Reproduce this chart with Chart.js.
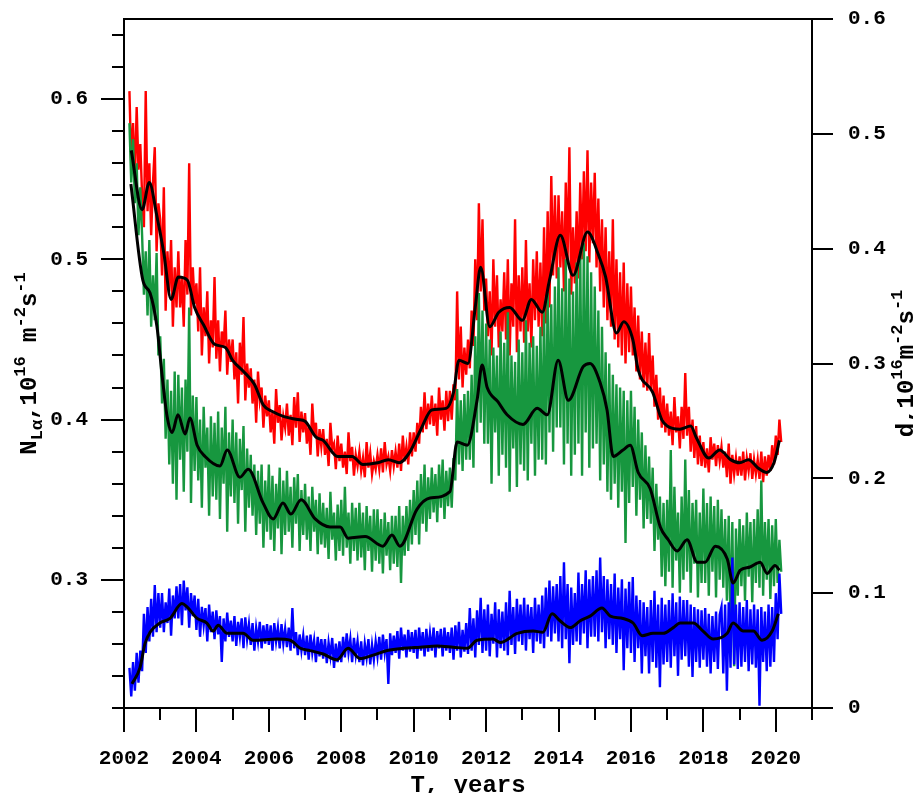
<!DOCTYPE html>
<html><head><meta charset="utf-8">
<script src="https://cdn.jsdelivr.net/npm/chart.js@4.4.1/dist/chart.umd.min.js"></script>
<style>html,body{margin:0;padding:0;background:#fff;overflow:hidden}#wrap{position:relative;width:913px;height:793px}</style>
</head><body><div id="wrap"><canvas id="c" width="913" height="793"></canvas></div>
<script>
// ---- tick labels / axis marks ----
const xTickYears = [2002,2004,2006,2008,2010,2012,2014,2016,2018,2020];
const xMinorYears = [2003,2005,2007,2009,2011,2013,2015,2017,2019,2021];
const leftTicks = [0.3,0.4,0.5,0.6];
const leftMinor = [0.22,0.24,0.26,0.28,0.32,0.34,0.36,0.38,0.42,0.44,0.46,0.48,0.52,0.54,0.56,0.58,0.62,0.64];
const rightTicks = [0,0.1,0.2,0.3,0.4,0.5,0.6];

// ---- raw series, sampled every 0.05 yr from 2002.15 ----
const noisyStart = 2002.15;
const noisyStep = 0.05;
const redNoisy = [
.605,.560,.585,.548,.595,.556,.572,.540,.520,.605,.530,.560,.515,.548,.570,.505,.535,
.525,.490,.545,.468,.505,.480,.512,.458,.495,.470,.505,.470,.488,.458,.512,.478,.560,.465,.495,.472,
.485,.455,.495,.440,.470,.452,.480,.435,.462,.445,.489,.438,.462,.430,.455,.445,.468,.428,.450,.436,
.450,.425,.442,.410,.448,.428,.464,.412,.435,.420,.432,.410,.425,.398,.430,.412,.420,.395,.415,.402,
.412,.392,.405,.385,.419,.398,.409,.387,.402,.395,.410,.390,.403,.384,.414,.395,.417,.386,.405,.392,
.404,.385,.396,.378,.410,.390,.398,.377,.394,.383,.394,.378,.388,.371,.398,.382,.385,.369,.390,.374,
.385,.370,.380,.366,.392,.374,.383,.365,.378,.371,.380,.368,.376,.364,.386,.370,.379,.366,.374,.369,
.378,.369,.382,.367,.386,.372,.377,.368,.381,.371,.380,.370,.385,.368,.390,.374,.383,.372,.392,.377,
.392,.380,.398,.385,.408,.392,.417,.394,.410,.397,.415,.396,.410,.390,.420,.400,.412,.393,.418,.399,
.418,.400,.422,.412,.480,.425,.458,.420,.445,.428,.450,.432,.468,.446,.500,.462,.535,.480,.525,.468,
.488,.452,.480,.440,.500,.458,.490,.445,.475,.455,.492,.450,.500,.440,.485,.458,.525,.442,.490,.455,
.495,.448,.512,.455,.485,.445,.500,.462,.505,.458,.498,.452,.520,.460,.530,.470,.552,.490,.540,.488,
.540,.495,.530,.480,.548,.500,.570,.478,.520,.485,.530,.488,.548,.500,.555,.505,.568,.498,.548,.510,
.554,.495,.538,.480,.525,.470,.520,.462,.505,.458,.525,.450,.500,.445,.492,.440,.498,.435,.485,.442,
.483,.440,.470,.430,.465,.425,.455,.420,.448,.418,.454,.418,.440,.408,.428,.400,.420,.395,.415,.392,
.410,.390,.405,.384,.414,.392,.402,.382,.408,.388,.429,.390,.408,.380,.400,.376,.396,.372,.390,.371,
.386,.370,.382,.367,.389,.375,.385,.371,.384,.374,.383,.370,.380,.364,.385,.360,.378,.366,.376,.365,
.377,.365,.380,.362,.376,.368,.379,.363,.375,.366,.375,.363,.380,.361,.377,.365,.378,.368,.384,.372,
.390,.378,.400,.386];
const greenNoisy = [
.585,.548,.575,.535,.560,.515,.545,.515,.478,.505,.465,.512,.458,.490,.462,.504,.440,
.452,.410,.438,.388,.425,.372,.418,.360,.430,.350,.428,.375,.420,.355,.425,.380,.470,.348,.415,.368,
.414,.362,.400,.345,.408,.370,.395,.340,.402,.352,.398,.350,.405,.338,.395,.360,.408,.330,.392,.352,
.400,.348,.392,.335,.388,.356,.396,.330,.382,.345,.378,.340,.372,.328,.368,.335,.372,.320,.362,.330,
.372,.325,.365,.318,.360,.332,.370,.316,.362,.328,.368,.330,.358,.320,.364,.335,.366,.318,.356,.328,
.360,.325,.352,.318,.358,.330,.350,.316,.354,.322,.348,.320,.345,.313,.355,.325,.342,.312,.347,.318,
.350,.315,.358,.320,.342,.310,.348,.318,.345,.312,.348,.314,.342,.306,.346,.318,.340,.305,.344,.312,
.344,.310,.338,.304,.342,.315,.336,.306,.340,.310,.340,.308,.346,.298,.340,.315,.346,.318,.350,.322,
.356,.328,.362,.322,.366,.335,.372,.330,.364,.338,.370,.342,.366,.336,.372,.345,.375,.338,.368,.346,
.370,.345,.376,.362,.419,.372,.412,.368,.416,.375,.418,.375,.428,.370,.452,.392,.479,.398,.468,.385,
.460,.385,.450,.360,.445,.392,.440,.365,.455,.378,.448,.370,.467,.355,.440,.382,.436,.358,.450,.372,
.442,.368,.462,.362,.448,.385,.452,.365,.446,.375,.458,.375,.468,.372,.479,.392,.472,.380,.483,.395,
.495,.395,.482,.372,.500,.385,.488,.365,.480,.378,.498,.385,.505,.365,.510,.392,.502,.370,.492,.382,
.483,.385,.468,.362,.458,.372,.442,.355,.435,.350,.428,.360,.422,.345,.420,.355,.418,.323,.412,.348,
.418,.358,.408,.340,.400,.350,.392,.332,.384,.338,.377,.335,.370,.318,.360,.325,.352,.302,.348,.296,
.350,.305,.381,.295,.358,.312,.342,.292,.352,.300,.375,.305,.356,.292,.348,.310,.350,.289,.342,.298,
.357,.298,.348,.290,.352,.305,.346,.289,.350,.300,.344,.295,.338,.287,.340,.270,.336,.246,.332,.290,
.338,.296,.334,.287,.342,.302,.336,.286,.338,.298,.344,.295,.362,.290,.336,.300,.338,.288,.334,.296,
.338,.298,.325,.305];
const blueNoisy = [
.035,.010,.040,.015,.048,.022,.050,.032,.082,.048,.088,.058,.095,.062,.107,.066,.100,
.070,.100,.066,.092,.074,.104,.063,.098,.078,.106,.078,.108,.072,.111,.085,.105,.070,.100,.080,.098,
.068,.095,.062,.088,.072,.087,.058,.090,.066,.084,.060,.085,.064,.080,.040,.078,.058,.083,.062,.076,
.058,.080,.054,.075,.062,.078,.052,.079,.060,.073,.055,.074,.050,.070,.058,.075,.052,.072,.056,.073,
.055,.072,.050,.074,.058,.070,.052,.073,.056,.069,.053,.070,.050,.087,.052,.066,.046,.064,.050,.063,
.046,.063,.042,.064,.048,.059,.040,.062,.045,.060,.043,.060,.039,.057,.045,.061,.035,.056,.040,.058,
.040,.062,.044,.065,.048,.060,.040,.061,.046,.058,.040,.058,.037,.056,.044,.060,.038,.055,.042,.058,
.045,.062,.042,.064,.048,.060,.021,.065,.046,.063,.048,.067,.043,.070,.050,.064,.044,.068,.049,.066,
.048,.068,.043,.070,.050,.066,.045,.069,.049,.065,.050,.070,.044,.067,.052,.069,.045,.070,.050,.066,
.048,.070,.042,.072,.050,.075,.044,.068,.049,.074,.047,.087,.050,.078,.044,.085,.055,.096,.048,.086,
.050,.090,.045,.082,.056,.092,.044,.086,.052,.084,.050,.092,.046,.102,.055,.088,.047,.095,.058,.090,
.055,.096,.050,.090,.060,.088,.048,.096,.058,.090,.056,.098,.052,.105,.062,.111,.058,.106,.065,.108,
.058,.115,.052,.127,.060,.108,.039,.105,.055,.100,.058,.118,.055,.108,.065,.120,.052,.112,.062,.115,
.062,.120,.058,.131,.066,.115,.052,.112,.060,.108,.055,.117,.048,.105,.060,.112,.033,.104,.052,.110,
.048,.114,.040,.098,.052,.094,.030,.092,.045,.088,.030,.094,.040,.102,.035,.090,.018,.096,.038,.090,
.040,.094,.035,.100,.045,.092,.028,.097,.042,.094,.045,.094,.036,.090,.027,.088,.040,.086,.035,.085,
.042,.087,.036,.082,.030,.080,.040,.084,.034,.081,.088,.030,.090,.015,.092,.035,.131,.038,.090,.034,
.092,.036,.088,.040,.094,.032,.086,.038,.090,.035,.086,.002,.088,.040,.084,.032,.090,.036,.088,.040,
.100,.060,.117,.082];

// ---- smoothed (running mean) curves ----
const redSmoothYears = [2002.2,2002.5,2002.7,2002.9,2003.1,2003.3,2003.5,2003.75,2003.95,2004.2,2004.5,2004.8,2005.0,2005.3,2005.6,2005.85,2006.1,2006.4,2006.8,2007.0,2007.3,2007.5,2007.9,2008.3,2008.6,2009.0,2009.3,2009.6,2009.9,2010.2,2010.5,2010.9,2011.1,2011.25,2011.5,2011.7,2011.85,2012.1,2012.35,2012.65,2013.0,2013.25,2013.55,2013.75,2014.05,2014.4,2014.8,2015.1,2015.3,2015.6,2015.8,2016.05,2016.2,2016.6,2016.85,2017.0,2017.35,2017.65,2017.8,2018.15,2018.45,2018.75,2019.0,2019.25,2019.5,2019.75,2019.95,2020.1];
const redSmooth = [0.568,0.531,0.548,0.528,0.504,0.475,0.489,0.487,0.470,0.459,0.447,0.445,0.437,0.430,0.422,0.409,0.405,0.402,0.400,0.399,0.389,0.387,0.377,0.377,0.372,0.373,0.375,0.373,0.380,0.394,0.406,0.407,0.417,0.437,0.435,0.470,0.495,0.458,0.467,0.470,0.462,0.475,0.467,0.487,0.515,0.490,0.517,0.503,0.489,0.454,0.461,0.450,0.431,0.417,0.400,0.396,0.394,0.396,0.389,0.376,0.381,0.375,0.373,0.375,0.370,0.367,0.373,0.387];
const greenSmoothYears = [2002.19,2002.52,2002.72,2002.91,2003.05,2003.19,2003.33,2003.49,2003.69,2003.82,2004.02,2004.24,2004.65,2004.85,2005.2,2005.43,2005.84,2006.12,2006.39,2006.61,2006.89,2007.28,2007.69,2007.97,2008.19,2008.66,2009.15,2009.4,2009.62,2010.09,2010.45,2011.0,2011.2,2011.48,2011.75,2011.89,2012.03,2012.33,2012.58,2013.02,2013.41,2013.69,2013.99,2014.27,2014.68,2014.87,2015.15,2015.34,2015.51,2015.78,2015.98,2016.2,2016.53,2016.81,2017.03,2017.28,2017.55,2017.83,2018.05,2018.33,2018.66,2018.82,2019.02,2019.29,2019.57,2019.76,2019.98,2020.1];
const greenSmooth = [0.547,0.487,0.479,0.458,0.428,0.402,0.392,0.403,0.391,0.401,0.384,0.377,0.371,0.381,0.364,0.369,0.348,0.338,0.348,0.341,0.350,0.338,0.333,0.333,0.326,0.327,0.321,0.328,0.321,0.344,0.351,0.355,0.386,0.384,0.412,0.434,0.420,0.411,0.403,0.397,0.407,0.403,0.437,0.412,0.433,0.435,0.423,0.406,0.377,0.381,0.384,0.367,0.357,0.333,0.325,0.318,0.325,0.311,0.311,0.321,0.313,0.298,0.306,0.308,0.311,0.304,0.309,0.306];
const blueSmoothYears = [2002.22,2002.44,2002.58,2002.72,2002.99,2003.27,2003.6,2003.74,2004.02,2004.29,2004.46,2004.6,2004.85,2005.29,2005.56,2006.23,2006.59,2006.87,2007.14,2007.5,2007.88,2008.19,2008.52,2008.88,2009.27,2009.71,2010.18,2010.65,2011.09,2011.48,2011.75,2012.19,2012.39,2012.86,2013.3,2013.57,2013.82,2014.04,2014.32,2014.6,2014.87,2015.2,2015.43,2015.78,2016.06,2016.31,2016.61,2016.89,2017.17,2017.36,2017.72,2017.99,2018.27,2018.66,2018.82,2019.1,2019.38,2019.62,2019.9,2020.07];
const blueSmooth = [0.021,0.035,0.056,0.066,0.074,0.078,0.091,0.088,0.078,0.074,0.067,0.072,0.065,0.065,0.059,0.060,0.059,0.052,0.050,0.047,0.042,0.052,0.043,0.046,0.050,0.052,0.053,0.054,0.053,0.052,0.059,0.060,0.057,0.065,0.067,0.066,0.082,0.076,0.070,0.076,0.080,0.087,0.080,0.078,0.074,0.063,0.065,0.065,0.070,0.074,0.074,0.067,0.060,0.065,0.074,0.067,0.067,0.059,0.067,0.082];

const FONT = "'Liberation Mono','Courier New',monospace";
const noisyPts = arr => arr.map((v,i)=>({x:+(noisyStart+i*noisyStep).toFixed(2), y:v}));
const pairPts = (xs,ys) => xs.map((x,i)=>({x, y:ys[i]}));

function drawRich(ctx, parts, size){
  let total=0;
  for(const p of parts){ ctx.font=`bold ${p.k==='n'?size:Math.round(size*0.7)}px ${FONT}`; total+=ctx.measureText(p.t).width; }
  let x = -total/2;
  ctx.textAlign='left'; ctx.textBaseline='alphabetic'; ctx.fillStyle='#000';
  for(const p of parts){
    const s = p.k==='n'?size:Math.round(size*0.7);
    ctx.font = `bold ${s}px ${FONT}`;
    const dy = p.k==='sup' ? -size*0.45 : (p.k==='sub' ? size*0.25 : 0);
    ctx.fillText(p.t, x, dy);
    x += ctx.measureText(p.t).width;
  }
}
const leftTitle = [{t:'N',k:'n'},{t:'Lα',k:'sub'},{t:',10',k:'n'},{t:'16',k:'sup'},{t:' m',k:'n'},{t:'-2',k:'sup'},{t:'s',k:'n'},{t:'-1',k:'sup'}];
const rightTitle = [{t:'d,10',k:'n'},{t:'16',k:'sup'},{t:'m',k:'n'},{t:'-2',k:'sup'},{t:'s',k:'n'},{t:'-1',k:'sup'}];

const axesPlugin = {
  id:'axesPlugin',
  afterDatasetsDraw(chart){
    const {ctx, chartArea:a, scales} = chart;
    const sx = scales.x, yl = scales.yL, yr = scales.yR;
    ctx.save();
    ctx.strokeStyle='#000'; ctx.lineWidth=2; ctx.lineCap='square';
    ctx.beginPath();
    ctx.moveTo(a.left,a.top); ctx.lineTo(a.right,a.top);
    ctx.moveTo(a.left,a.top); ctx.lineTo(a.left,a.bottom);
    ctx.moveTo(a.right,a.top); ctx.lineTo(a.right,a.bottom);
    ctx.moveTo(a.left,a.bottom); ctx.lineTo(a.right,a.bottom);
    ctx.stroke();
    ctx.lineCap='butt';
    ctx.beginPath();
    for(const v of leftTicks){ const y=Math.round(yl.getPixelForValue(v)); ctx.moveTo(a.left-23,y); ctx.lineTo(a.left,y); }
    for(const v of leftMinor){ const y=Math.round(yl.getPixelForValue(v)); ctx.moveTo(a.left-12,y); ctx.lineTo(a.left,y); }
    for(const v of rightTicks){ const y=Math.round(yr.getPixelForValue(v)); ctx.moveTo(a.right,y); ctx.lineTo(a.right+21,y); }
    for(const v of xTickYears){ const x=Math.round(sx.getPixelForValue(v)); ctx.moveTo(x,a.bottom); ctx.lineTo(x,a.bottom+24); }
    for(const v of xMinorYears){ const x=Math.round(sx.getPixelForValue(v)); ctx.moveTo(x,a.bottom); ctx.lineTo(x,a.bottom+12); }
    ctx.stroke();
    ctx.restore();
  },
  afterDraw(chart){
    const {ctx, chartArea:a} = chart;
    ctx.save();
    ctx.fillStyle='#000';
    ctx.font=`bold 24px ${FONT}`; ctx.textAlign='center'; ctx.textBaseline='alphabetic';
    ctx.fillText('T, years', (a.left+a.right)/2, 792);
    ctx.restore();
    const cy=(a.top+a.bottom)/2;
    ctx.save(); ctx.translate(36, cy); ctx.rotate(-Math.PI/2); drawRich(ctx, leftTitle, 24); ctx.restore();
    ctx.save(); ctx.translate(913, cy); ctx.rotate(-Math.PI/2); drawRich(ctx, rightTitle, 24); ctx.restore();
  }
};

const tickFont = {family:FONT, size:21, weight:'bold'};
const noPad = s => { s.paddingTop=0; s.paddingBottom=0; s.paddingLeft=0; s.paddingRight=0; };
const smoothStyle = {borderColor:'#000', borderWidth:3, tension:0.35, cubicInterpolationMode:'monotone', order:0};
new Chart(document.getElementById('c'), {
  type:'line',
  data:{datasets:[
    Object.assign({data:pairPts(redSmoothYears,redSmooth), yAxisID:'yL'}, smoothStyle),
    Object.assign({data:pairPts(greenSmoothYears,greenSmooth), yAxisID:'yL'}, smoothStyle),
    Object.assign({data:pairPts(blueSmoothYears,blueSmooth), yAxisID:'yR'}, smoothStyle),
    {data:noisyPts(blueNoisy), yAxisID:'yR', borderColor:'#0000ff', borderWidth:2.4, order:1},
    {data:noisyPts(greenNoisy), yAxisID:'yL', borderColor:'#17973f', borderWidth:2.4, order:2},
    {data:noisyPts(redNoisy), yAxisID:'yL', borderColor:'#ff0000', borderWidth:2.4, order:3}
  ]},
  options:{
    responsive:false, devicePixelRatio:1, animation:false,
    elements:{point:{radius:0}, line:{tension:0, borderJoinStyle:'miter', fill:false}},
    layout:{padding:{top:19,left:0,right:0,bottom:0}},
    plugins:{legend:{display:false}, tooltip:{enabled:false}},
    scales:{
      x:{type:'linear', position:'bottom', min:2002, max:2021,
         grid:{display:false, drawTicks:false}, border:{display:false},
         afterBuildTicks:s=>{s.ticks=xTickYears.map(v=>({value:v}));},
         afterFit:s=>{s.height=85; noPad(s);},
         ticks:{font:tickFont, color:'#000', padding:38, maxRotation:0, autoSkip:false, callback:v=>String(v)}},
      yL:{type:'linear', position:'left', min:0.22, max:0.65,
         grid:{display:false, drawTicks:false}, border:{display:false},
         afterBuildTicks:s=>{s.ticks=leftTicks.map(v=>({value:v}));},
         afterFit:s=>{s.width=124; noPad(s);},
         ticks:{font:tickFont, color:'#000', padding:36, callback:v=>v.toFixed(1)}},
      yR:{type:'linear', position:'right', min:0, max:0.6,
         grid:{display:false, drawTicks:false}, border:{display:false},
         afterBuildTicks:s=>{s.ticks=rightTicks.map(v=>({value:v}));},
         afterFit:s=>{s.width=101; noPad(s);},
         ticks:{font:tickFont, color:'#000', padding:36, callback:v=>v===0?'0':v.toFixed(1)}}
    }
  },
  plugins:[axesPlugin]
});
</script></body></html>
